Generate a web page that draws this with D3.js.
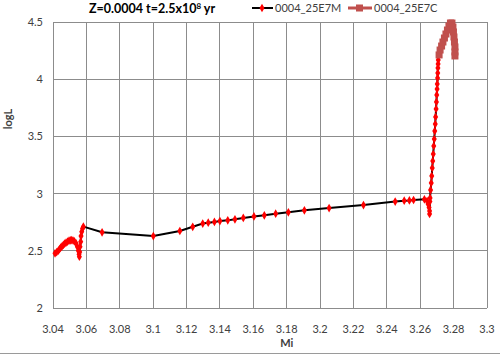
<!DOCTYPE html>
<html lang="en">
  <head>
    <meta charset="UTF-8" />
    <title>logL vs Mi</title>
    <style>
      body { margin: 0; background: #fff; }
      text { font-family: Lato, "Open Sans", sans-serif; }
    </style>
  </head>
  <body>
    <svg id="svg" width="500" height="354"></svg>

    <script src="https://cdn.jsdelivr.net/npm/d3@7"></script>
    <script>
      // series 0004_25E7M
      const miM = [
        3.0412, 3.0422, 3.0432, 3.0439, 3.0446, 3.0454, 3.0462, 3.047, 3.0478, 3.0487,
        3.0496, 3.0504, 3.0512, 3.052, 3.0528, 3.0538, 3.0546, 3.0552, 3.0556, 3.0558,
        3.056, 3.0562, 3.0566, 3.0568, 3.0572, 3.0577, 3.0582, 3.0694, 3.1001, 3.116,
        3.1237, 3.1297, 3.133, 3.1367, 3.14, 3.1447, 3.149, 3.154, 3.1604, 3.1666,
        3.1734, 3.181, 3.1906, 3.2054, 3.226, 3.245, 3.2504, 3.2535, 3.256, 3.2625,
        3.2641, 3.2647, 3.2653, 3.2656, 3.2656, 3.2658, 3.2659, 3.2662, 3.2666, 3.2669,
        3.2672, 3.2675, 3.2678, 3.2681, 3.2684, 3.2687, 3.269, 3.2692, 3.2695, 3.2697,
        3.2699, 3.2701, 3.2702, 3.2704, 3.2705, 3.2706, 3.2707, 3.2708
      ];
      const logLM = [
        2.478, 2.488, 2.501, 2.514, 2.527, 2.539, 2.551, 2.562, 2.571, 2.58,
        2.588, 2.592, 2.594, 2.59, 2.583, 2.566, 2.536, 2.501, 2.469, 2.448,
        2.49, 2.536, 2.58, 2.629, 2.667, 2.695, 2.711, 2.662, 2.629, 2.673,
        2.71, 2.738, 2.746, 2.752, 2.76, 2.766, 2.775, 2.787, 2.8, 2.81,
        2.824, 2.836, 2.854, 2.874, 2.9, 2.93, 2.938, 2.94, 2.944, 2.95,
        2.935, 2.909, 2.878, 2.848, 2.822, 2.93, 2.962, 3.031, 3.093, 3.154,
        3.224, 3.285, 3.346, 3.416, 3.477, 3.547, 3.608, 3.67, 3.74, 3.801,
        3.862, 3.914, 3.958, 4.01, 4.054, 4.098, 4.133, 4.168
      ];
      // series 0004_25E7C
      const miC = [
        3.2713, 3.2719, 3.2728, 3.2736, 3.2745, 3.2754, 3.2763, 3.2772, 3.2781, 3.279,
        3.2796, 3.2799, 3.2802, 3.2805, 3.2808, 3.2808, 3.2808
      ];
      const logLC = [
        4.212, 4.255, 4.29, 4.325, 4.36, 4.395, 4.43, 4.465, 4.491, 4.491,
        4.456, 4.413, 4.369, 4.325, 4.282, 4.238, 4.203
      ];
      const seriesNames = ["0004_25E7M", "0004_25E7C"];
      const xTicks = [3.04, 3.06, 3.08, 3.1, 3.12, 3.14, 3.16, 3.18, 3.2, 3.22, 3.24, 3.26, 3.28, 3.3];
      const yTicks = [2, 2.5, 3, 3.5, 4, 4.5];

      const plotLeft = 53, plotRight = 487, plotTop = 22, plotBottom = 308;
      const x = d3.scaleLinear().domain([3.04, 3.3]).range([plotLeft, plotRight]);
      const y = d3.scaleLinear().domain([2, 4.5]).range([plotBottom, plotTop]);

      const svg = d3.select("#svg");
      const gridColor = "#8c8c8c";
      const labelColor = "#404040";

      // grid
      svg.append("g")
        .selectAll("line")
        .data(xTicks)
        .join("line")
        .attr("x1", (d) => x(d)).attr("x2", (d) => x(d))
        .attr("y1", plotTop).attr("y2", plotBottom)
        .attr("stroke", gridColor).attr("stroke-width", 1)
        .attr("shape-rendering", "crispEdges");
      svg.append("g")
        .selectAll("line")
        .data(yTicks)
        .join("line")
        .attr("x1", plotLeft).attr("x2", plotRight)
        .attr("y1", (d) => y(d)).attr("y2", (d) => y(d))
        .attr("stroke", gridColor).attr("stroke-width", 1)
        .attr("shape-rendering", "crispEdges");

      // tick labels
      svg.append("g")
        .selectAll("text")
        .data(xTicks)
        .join("text")
        .attr("x", (d) => x(d))
        .attr("y", 333)
        .attr("text-anchor", "middle")
        .attr("font-size", 11)
        .attr("fill", labelColor)
        .text((d) => d3.format("")(d));
      svg.append("g")
        .selectAll("text")
        .data(yTicks)
        .join("text")
        .attr("x", 43)
        .attr("y", (d) => y(d) + 4)
        .attr("text-anchor", "end")
        .attr("font-size", 11)
        .attr("fill", labelColor)
        .text((d) => d3.format("")(d));

      // axis titles
      svg.append("text")
        .attr("x", x(3.18))
        .attr("y", 347)
        .attr("text-anchor", "middle")
        .attr("font-size", 11)
        .attr("font-weight", "bold")
        .attr("fill", labelColor)
        .text("Mi");
      svg.append("text")
        .attr("transform", "translate(12,119) rotate(-90)")
        .attr("text-anchor", "middle")
        .attr("font-size", 11)
        .attr("font-weight", "bold")
        .attr("fill", labelColor)
        .text("logL");

      // title
      const title = svg.append("text")
        .attr("x", 152)
        .attr("y", 13)
        .attr("text-anchor", "middle")
        .attr("font-size", 12.5)
        .attr("font-weight", "bold")
        .attr("fill", "#000");
      title.append("tspan").text("Z=0.0004 t=2.5x10");
      title.append("tspan").attr("dy", -4).attr("font-size", 8).text("8");
      title.append("tspan").attr("dy", 4).text(" yr");

      const line = d3.line().x((d) => x(d[0])).y((d) => y(d[1]));
      const dataM = d3.zip(miM, logLM);
      const dataC = d3.zip(miC, logLC);

      // series M
      svg.append("path")
        .attr("d", line(dataM))
        .attr("fill", "none")
        .attr("stroke", "#000")
        .attr("stroke-width", 2);
      svg.append("g")
        .selectAll("path")
        .data(dataM)
        .join("path")
        .attr("transform", (d) => `translate(${x(d[0])},${y(d[1])})`)
        .attr("d", d3.symbol(d3.symbolDiamond, 22))
        .attr("fill", "#ff0000");

      // series C
      svg.append("path")
        .attr("d", line(dataC))
        .attr("fill", "none")
        .attr("stroke", "#c0504d")
        .attr("stroke-width", 3);
      svg.append("g")
        .selectAll("rect")
        .data(dataC)
        .join("rect")
        .attr("x", (d) => x(d[0]) - 3.5)
        .attr("y", (d) => y(d[1]) - 3.5)
        .attr("width", 7)
        .attr("height", 7)
        .attr("fill", "#c0504d");

      // legend
      const legend = svg.append("g").attr("font-size", 11).attr("fill", labelColor);
      legend.append("line")
        .attr("x1", 252).attr("x2", 273).attr("y1", 8).attr("y2", 8)
        .attr("stroke", "#000").attr("stroke-width", 2);
      legend.append("path")
        .attr("transform", "translate(262,8)")
        .attr("d", d3.symbol(d3.symbolDiamond, 22))
        .attr("fill", "#ff0000");
      legend.append("text").attr("x", 275).attr("y", 12).text(seriesNames[0]);
      legend.append("line")
        .attr("x1", 348).attr("x2", 372).attr("y1", 8).attr("y2", 8)
        .attr("stroke", "#c0504d").attr("stroke-width", 3);
      legend.append("rect")
        .attr("x", 356).attr("y", 4.5).attr("width", 7).attr("height", 7)
        .attr("fill", "#c0504d");
      legend.append("text").attr("x", 374).attr("y", 12).text(seriesNames[1]);

      // outer chart border at bottom
      svg.append("line")
        .attr("x1", 0).attr("x2", 500).attr("y1", 353.5).attr("y2", 353.5)
        .attr("stroke", "#9a9a9a").attr("stroke-width", 1);
    </script>
  </body>
</html>
